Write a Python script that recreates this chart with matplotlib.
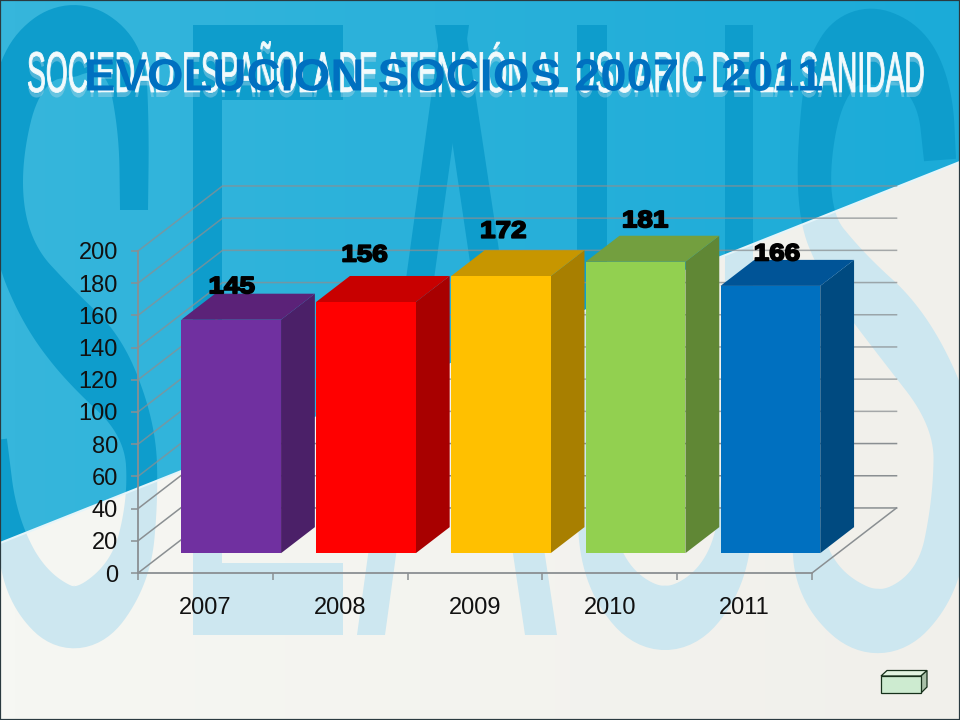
import numpy as np
import matplotlib
matplotlib.use("Agg")
import matplotlib.pyplot as plt
from matplotlib.colors import to_rgb
from matplotlib.patches import Polygon, Rectangle
from matplotlib.patheffects import AbstractPathEffect
from matplotlib.transforms import Affine2D

# ---- chart data -------------------------------------------------------
years = ["2007", "2008", "2009", "2010", "2011"]
socios = [145, 156, 172, 181, 166]
y_ticks = [0, 20, 40, 60, 80, 100, 120, 140, 160, 180, 200]
title_text = "EVOLUCION SOCIOS 2007 - 2011"
banner_text = "SOCIEDAD ESPAÑOLA DE ATENCIÓN AL USUARIO DE LA SANIDAD"

# ---- styles -----------------------------------------------------------
front_colors = ["#7030A0", "#FF0000", "#FFC000", "#92D050", "#0070C0"]
side_colors = ["#4B2068", "#A80000", "#A87F00", "#608735", "#004A80"]
top_colors = ["#5B2278", "#C80000", "#C79600", "#739F3F", "#005497"]
label_shift_px = [(-3, 7), (-5, 21), (-1, 19), (6, 15), (3, 6)]

W, H = 960, 720
plt.rcParams["font.family"] = ["Liberation Sans", "DejaVu Sans"]
fig = plt.figure(figsize=(W / 100, H / 100), dpi=100)


class Stretch(AbstractPathEffect):
    """Scale text glyphs about their origin; optional outline and echo."""

    def __init__(self, sx=1.0, sy=1.0, stroke=0.0, echo=None):
        super().__init__()
        self.sx, self.sy, self.stroke, self.echo = sx, sy, stroke, echo

    def draw_path(self, renderer, gc, tpath, affine, rgbFace=None):
        tr = Affine2D().scale(self.sx, self.sy) + affine
        if self.echo:
            gc2 = renderer.new_gc()
            gc2.copy_properties(gc)
            gc2.set_linewidth(0)
            for off, col in self.echo:
                renderer.draw_path(gc2, tpath, tr + Affine2D().translate(0, -off), col)
            gc2.restore()
        gc1 = renderer.new_gc()
        gc1.copy_properties(gc)
        if self.stroke:
            gc1.set_linewidth(self.stroke)
            gc1.set_foreground(rgbFace[:3] if rgbFace is not None else "k")
        renderer.draw_path(gc1, tpath, tr, rgbFace)
        gc1.restore()


# ---- decorative background (pixel coordinates) ------------------------
bg = fig.add_axes([0, 0, 1, 1], zorder=-1)
bg.set_xlim(0, W)
bg.set_ylim(H, 0)
bg.axis("off")


def gradient(c0, c1):
    t = np.linspace(0, 1, 64)[None, :, None]
    a, b = np.array(to_rgb(c0)), np.array(to_rgb(c1))
    return a + (b - a) * t


edge_line = lambda x: 543 - 0.397 * x
upper_pts = [(0, 0), (W, 0), (W, edge_line(W)), (0, edge_line(0))]
lower_pts = [(0, edge_line(0)), (W, edge_line(W)), (W, H), (0, H)]
upper_zone = Polygon(upper_pts, closed=True, fc="none", ec="none", transform=bg.transData)
lower_zone = Polygon(lower_pts, closed=True, fc="none", ec="none", transform=bg.transData)
bg.add_patch(upper_zone)
bg.add_patch(lower_zone)

bg.imshow(gradient("#36B6DC", "#1BABD8"), extent=(0, W, H, 0), aspect="auto", zorder=0)
low_img = bg.imshow(gradient("#F6F7F3", "#F1F0EB"), extent=(0, W, H, 0), aspect="auto", zorder=1)
low_img.set_clip_path(lower_zone)
bg.set_xlim(0, W)
bg.set_ylim(H, 0)


def smooth(pts, rounds=4):
    p = np.array(pts, float)
    for _ in range(rounds):
        q = 0.75 * p[:-1] + 0.25 * p[1:]
        r = 0.25 * p[:-1] + 0.75 * p[1:]
        mid = np.empty((2 * len(q), 3))
        mid[0::2], mid[1::2] = q, r
        p = np.vstack([p[0], mid, p[-1]])
    return p


def ribbon(pts):
    p = smooth(pts)
    d = np.gradient(p[:, :2], axis=0)
    d /= np.linalg.norm(d, axis=1, keepdims=True)
    n = np.c_[-d[:, 1], d[:, 0]] * p[:, 2:3] / 2
    return np.vstack([p[:, :2] + n, (p[:, :2] - n)[::-1]])


left_s = [(134, 210, 28), (134, 210, 28), (134, 130, 30), (125, 55, 42), (72, 34, 80), (18, 68, 50),
          (4, 170, 30), (12, 250, 38), (50, 310, 62), (95, 360, 72), (140, 430, 32),
          (143, 500, 30), (130, 575, 42), (78, 628, 68), (28, 590, 50), (6, 520, 22), (-4, 440, 22)]
u_shape = [(592, 25, 30), (592, 25, 30), (592, 470, 30), (600, 575, 42), (665, 632, 72),
           (730, 575, 42), (739, 470, 28), (739, 25, 28), (739, 25, 28)]
right_s = [(940, 160, 32), (940, 160, 32), (935, 95, 36), (905, 50, 60), (860, 44, 85), (822, 82, 40),
           (810, 210, 30), (845, 270, 50), (900, 330, 65), (955, 420, 42), (952, 500, 38), (938, 585, 45),
           (880, 632, 70), (820, 590, 50), (803, 520, 25), (800, 480, 20)]
shapes = [ribbon(left_s), ribbon(u_shape), ribbon(right_s),
          [(193, 25), (343, 25), (343, 100), (222, 100), (222, 563), (343, 563), (343, 635), (193, 635)],
          [(441, 25), (469, 25), (385, 635), (357, 635)],
          [(435, 25), (465, 25), (557, 635), (525, 635)]]
for poly in shapes:
    for colr, zone, z in (("#0E9DCC", upper_zone, 2), ("#CDE7F0", lower_zone, 2)):
        patch = Polygon(poly, closed=True, fc=colr, ec="none", zorder=z)
        bg.add_patch(patch)
        patch.set_clip_path(zone)
bg.plot([0, W], [edge_line(0), edge_line(W)], color="#E4F5FA", lw=1.5, zorder=3)
bg.add_patch(Rectangle((0, 0), W, H, fc="none", ec="#2A3A40", lw=1.6, zorder=6, clip_on=True))

# button at the lower right
bg.add_patch(Polygon([(881, 676), (887, 670.5), (927, 670.5), (921, 676)], closed=True, fc="#E2F3E0", ec="#16301A", lw=0.9, zorder=5))
bg.add_patch(Polygon([(921, 676), (927, 670.5), (927, 687), (921, 693)], closed=True, fc="#A9C0A8", ec="#16301A", lw=0.9, zorder=5))
bg.add_patch(Rectangle((881, 676), 40, 17, fc="#CDEBD0", ec="#16301A", lw=0.9, zorder=5))

# banner and title
fig.text(27 / W, 1 - 92 / H, banner_text, color="#F2FAFC", fontsize=20, fontweight="normal",
         ha="left", va="baseline", zorder=2,
         path_effects=[Stretch(1.0155, 2.07, stroke=0.6, echo=[(5, (0.70, 0.86, 0.92, 0.40))])])
fig.suptitle(title_text, x=84 / W, y=1 - 90.5 / H, color="#0070C0", fontsize=32.5, fontweight="bold",
             ha="left", va="baseline", zorder=5, path_effects=[Stretch(1.045, 1.0)])

# ---- chart ------------------------------------------------------------
x0, x1, y0, y200 = 138, 812, 573, 251
ax = fig.add_axes([x0 / W, 1 - y0 / H, (x1 - x0) / W, (y0 - y200) / H], zorder=2)
ax.patch.set_alpha(0)
ax.set_xlim(0, 5)
ax.set_ylim(0, 200)
DX, DY = 0.627, 40.4  # wall depth in data units
FRONT, BACK = 0.305, 0.705

gray = "#8A8F92"
for v in y_ticks:
    a = 0.75 if v > 40 else 1
    ax.plot([0, DX, 5 + DX], [v, v + DY, v + DY], color=gray, lw=1.1, alpha=a, clip_on=False, zorder=1)
ax.plot([5, 5 + DX], [0, DY], color=gray, lw=1.1, clip_on=False, zorder=1)

centers = np.arange(5) + 0.5
bar_w = 0.74
base = FRONT * DY
xs = centers + FRONT * DX
ax.bar(xs, socios, width=bar_w, bottom=base, color=front_colors, lw=0, zorder=4, clip_on=False)
ddx, ddy = (BACK - FRONT) * DX, (BACK - FRONT) * DY
for i, (x, v) in enumerate(zip(xs, socios)):
    l, r, t = x - bar_w / 2, x + bar_w / 2, base + v
    ax.add_patch(Polygon([(r, base), (r + ddx, base + ddy), (r + ddx, t + ddy), (r, t)], closed=True,
                         fc=side_colors[i], ec="none", zorder=3, clip_on=False))
    ax.add_patch(Polygon([(l, t), (l + ddx, t + ddy), (r + ddx, t + ddy), (r, t)], closed=True,
                         fc=top_colors[i], ec="none", zorder=3, clip_on=False))
    ax.annotate(str(v), xy=(x, t + ddy), xytext=label_shift_px[i], textcoords="offset pixels",
                ha="center", va="center", fontsize=17, fontweight="bold", color="black", zorder=6,
                annotation_clip=False, path_effects=[Stretch(1.18, 1.0, stroke=1.3)])

for s in ("top", "right"):
    ax.spines[s].set_visible(False)
for s in ("left", "bottom"):
    ax.spines[s].set_color(gray)
    ax.spines[s].set_linewidth(1.3)
ax.set_yticks(y_ticks)
ax.set_xticks(range(6))
ax.set_xticklabels([])
ax.set_xticks(centers, minor=True)
ax.set_xticklabels(years, minor=True)
ax.tick_params(axis="both", which="major", length=5, width=1.1, color=gray, labelsize=17, labelcolor="#111111", pad=9.5)
ax.tick_params(axis="x", which="minor", length=0, labelsize=17, labelcolor="#111111", pad=17.5)

fig.savefig("out.png", dpi=100)
